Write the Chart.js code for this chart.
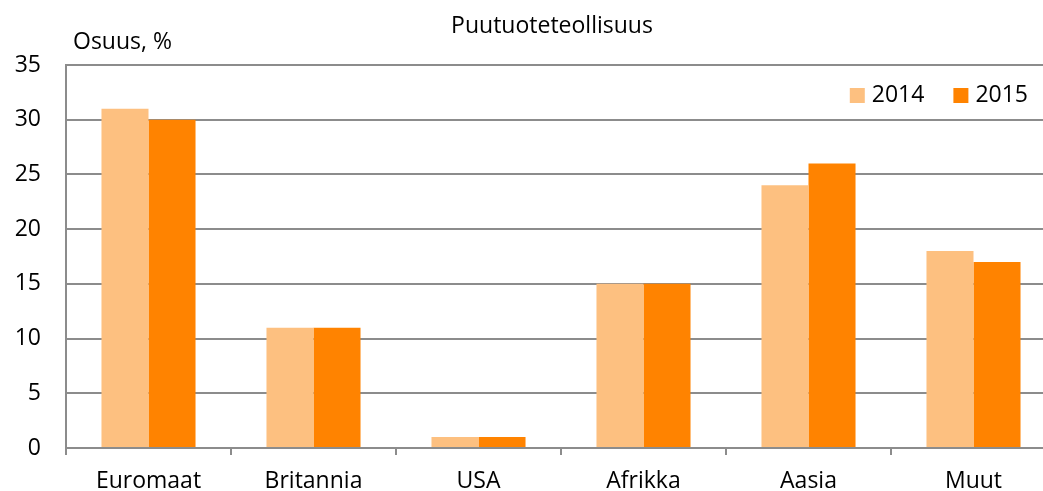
<!DOCTYPE html>
<html lang="fi">
<head>
  <meta charset="UTF-8">
  <title>Puutuoteteollisuus</title>
  <script src="https://cdn.jsdelivr.net/npm/chart.js"></script>
  <style>
    html, body { margin: 0; padding: 0; background: #fff; overflow: hidden; }
    /* plot runs a little past the right edge of the window, like the original */
    #wrap { width: 1058px; height: 491px; }
  </style>
</head>
<body>
  <div id="wrap"><canvas id="chart"></canvas></div>

  <script>
    const categories = ["Euromaat", "Britannia", "USA", "Afrikka", "Aasia", "Muut"];
    const values2014 = [31, 11, 1, 15, 24, 18];
    const values2015 = [30, 11, 1, 15, 26, 17];
    const seriesLabels = ["2014", "2015"];
    const titleText = "Puutuoteteollisuus";
    const yAxisText = "Osuus, %";

    const font = "'Open Sans', sans-serif";
    const gray = "#8c8c8c";

    // title, y-axis caption and legend are drawn inside the canvas by hand
    const extras = {
      id: "extras",
      afterDraw(chart) {
        const ctx = chart.ctx;
        const area = chart.chartArea;
        ctx.save();
        ctx.fillStyle = "#000";
        ctx.textBaseline = "middle";
        ctx.font = "23px " + font;
        ctx.textAlign = "center";
        ctx.fillText(titleText, 552, 26);
        ctx.textAlign = "left";
        ctx.fillText(yAxisText, 73, 42);

        // legend, top right inside plot
        let x = 1028;
        const y = area.top + 30;
        const items = chart.data.datasets.map(d => ({ text: d.label, color: d.backgroundColor }));
        for (let i = items.length - 1; i >= 0; i--) {
          const w = ctx.measureText(items[i].text).width;
          ctx.fillStyle = "#000";
          ctx.fillText(items[i].text, x - w, y);
          ctx.fillStyle = items[i].color;
          ctx.fillRect(x - w - 22, y - 7, 15, 15);
          x = x - w - 22 - 29;
        }
        ctx.restore();
      }
    };

    new Chart(document.getElementById("chart"), {
      type: "bar",
      data: {
        labels: categories,
        datasets: [
          { label: seriesLabels[0], data: values2014, backgroundColor: "#fdc080" },
          { label: seriesLabels[1], data: values2015, backgroundColor: "#ff8300" }
        ]
      },
      options: {
        responsive: true,
        maintainAspectRatio: false,
        animation: false,
        layout: { padding: { top: 65, right: 2, bottom: 0, left: 0 } },
        datasets: { bar: { categoryPercentage: 0.57, barPercentage: 1 } },
        plugins: {
          legend: { display: false },
          tooltip: { enabled: false }
        },
        scales: {
          x: {
            offset: true,
            grid: {
              offset: true,
              drawOnChartArea: false,
              drawTicks: true,
              tickLength: 7,
              color: gray,
              lineWidth: 2
            },
            border: { color: gray, width: 2 },
            ticks: { color: "#000", font: { family: font, size: 23 }, padding: 13, maxRotation: 0 },
            afterFit(scale) { scale.height = 43; }
          },
          y: {
            min: 0,
            max: 35,
            ticks: { stepSize: 5, color: "#000", font: { family: font, size: 23 }, padding: 25 },
            grid: { color: gray, lineWidth: 2, drawTicks: false },
            border: { color: gray, width: 2 },
            afterFit(scale) { scale.width = 66; }
          }
        }
      },
      plugins: [extras]
    });
  </script>
</body>
</html>
